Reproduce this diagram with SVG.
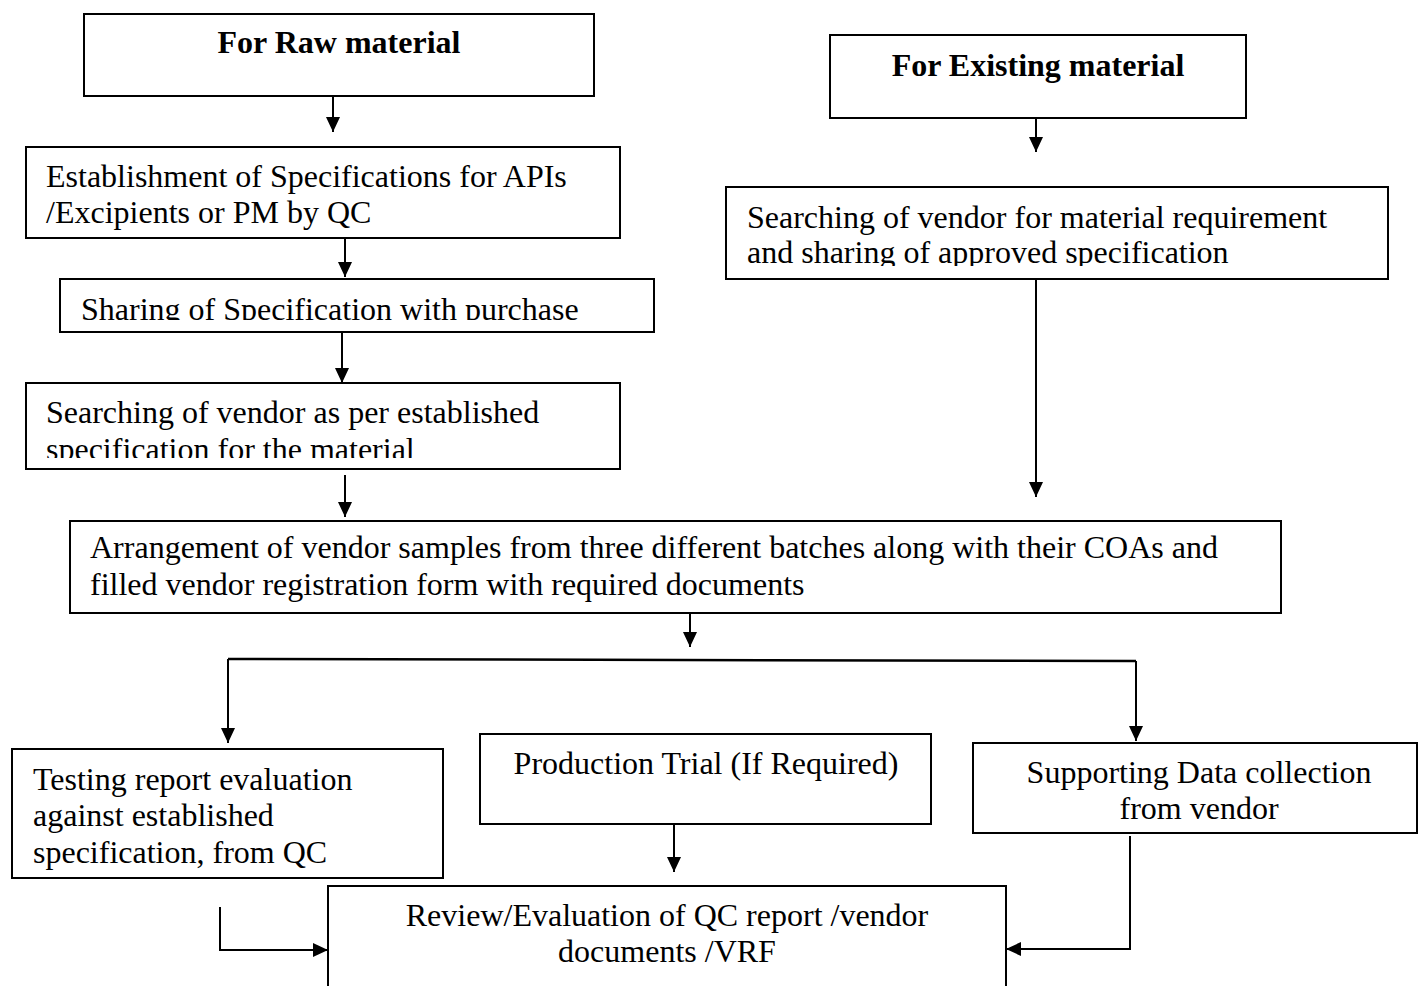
<svg xmlns="http://www.w3.org/2000/svg" width="1419" height="986" viewBox="0 0 1419 986">
  <style>
    .box { fill: #ffffff; stroke: #000000; stroke-width: 2; }
    .t { font-family: "Liberation Serif", "Times New Roman", serif; font-size: 32px; fill: #000000; }
    .b { font-weight: bold; }
    .m { text-anchor: middle; }
    .c { fill: none; stroke: #000000; stroke-width: 2; marker-end: url(#arr); }
  </style>
  <defs>
    <marker id="arr" markerUnits="userSpaceOnUse" viewBox="0 0 15 14" refX="15" refY="7" markerWidth="15" markerHeight="14" orient="auto">
      <path d="M0,0 L15,7 L0,14 Z" fill="#000000"/>
    </marker>
    <clipPath id="clipShare"><rect x="60" y="279" width="594" height="41"/></clipPath>
    <clipPath id="clipSearch"><rect x="26" y="383" width="594" height="75"/></clipPath>
    <clipPath id="clipExist"><rect x="726" y="187" width="662" height="79"/></clipPath>
  </defs>
  <rect width="1419" height="986" fill="#ffffff"/>

  <g id="connectors">
    <line class="c" x1="333" y1="96" x2="333" y2="132"/>
    <line class="c" x1="345" y1="238" x2="345" y2="277"/>
    <line class="c" x1="342" y1="332" x2="342" y2="383"/>
    <line class="c" x1="345" y1="475" x2="345" y2="517"/>
    <line class="c" x1="1036" y1="118" x2="1036" y2="152"/>
    <line class="c" x1="1036" y1="279" x2="1036" y2="497"/>
    <line class="c" x1="690" y1="613" x2="690" y2="647"/>
    <line x1="228" y1="659" x2="1136" y2="661" stroke="#000000" stroke-width="2.5"/>
    <line class="c" x1="228" y1="659" x2="228" y2="743"/>
    <line class="c" x1="1136" y1="661" x2="1136" y2="741"/>
    <line class="c" x1="674" y1="824" x2="674" y2="872"/>
    <polyline class="c" points="220,907 220,950 328,950"/>
    <polyline class="c" points="1130,836 1130,949 1006,949"/>
  </g>

  <g id="raw">
    <rect class="box" x="84" y="14" width="510" height="82"/>
    <text class="t b m" x="339" y="53">For Raw material</text>
  </g>

  <g id="establish">
    <rect class="box" x="26" y="147" width="594" height="91"/>
    <text class="t" x="46" y="187">Establishment of Specifications for APIs</text>
    <text class="t" x="46" y="223">/Excipients or PM by QC</text>
  </g>

  <g id="share">
    <rect class="box" x="60" y="279" width="594" height="53"/>
    <text class="t" x="81" y="320" clip-path="url(#clipShare)">Sharing of Specification with purchase</text>
  </g>

  <g id="search">
    <rect class="box" x="26" y="383" width="594" height="86"/>
    <text class="t" x="46" y="423">Searching of vendor as per established</text>
    <text class="t" x="46" y="460" clip-path="url(#clipSearch)">specification for the material</text>
  </g>

  <g id="existing">
    <rect class="box" x="830" y="35" width="416" height="83"/>
    <text class="t b m" x="1038" y="76">For Existing material</text>
  </g>

  <g id="searchExisting">
    <rect class="box" x="726" y="187" width="662" height="92"/>
    <text class="t" x="747" y="228">Searching of vendor for material requirement</text>
    <text class="t" x="747" y="263" clip-path="url(#clipExist)">and sharing of approved specification</text>
  </g>

  <g id="arrangement">
    <rect class="box" x="70" y="521" width="1211" height="92"/>
    <text class="t" x="90" y="558">Arrangement of vendor samples from three different batches along with their COAs and</text>
    <text class="t" x="90" y="595">filled vendor registration form with required documents</text>
  </g>

  <g id="testing">
    <rect class="box" x="12" y="749" width="431" height="129"/>
    <text class="t" x="33" y="790">Testing report evaluation</text>
    <text class="t" x="33" y="826">against established</text>
    <text class="t" x="33" y="863">specification, from QC</text>
  </g>

  <g id="production">
    <rect class="box" x="480" y="734" width="451" height="90"/>
    <text class="t m" x="706" y="774">Production Trial (If Required)</text>
  </g>

  <g id="supporting">
    <rect class="box" x="973" y="743" width="444" height="90"/>
    <text class="t m" x="1199" y="783">Supporting Data collection</text>
    <text class="t m" x="1199" y="819">from vendor</text>
  </g>

  <g id="review">
    <rect class="box" x="328" y="886" width="678" height="120"/>
    <text class="t m" x="667" y="926">Review/Evaluation of QC report /vendor</text>
    <text class="t m" x="667" y="962">documents /VRF</text>
  </g>
</svg>
